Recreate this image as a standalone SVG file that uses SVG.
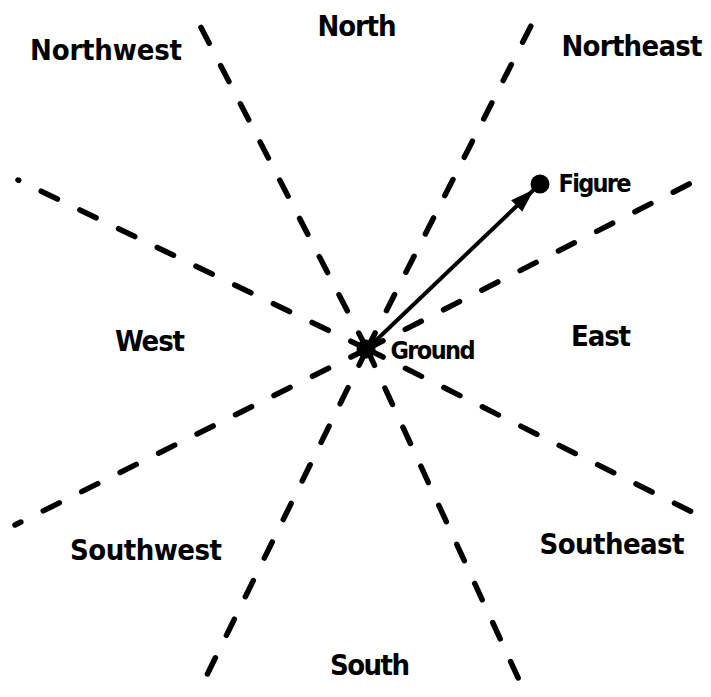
<svg xmlns="http://www.w3.org/2000/svg" width="711" height="697" viewBox="0 0 711 697">
<defs>
<style>
.ray{stroke:#000;stroke-width:5.5;stroke-dasharray:18 25;stroke-linecap:round;fill:none}
.lbl{font-family:'DejaVu Sans Condensed','DejaVu Sans',sans-serif;font-weight:bold;font-size:29px;fill:#000;text-anchor:middle;dominant-baseline:central}
.sm{font-size:25px}
</style>
<marker id="ah" markerUnits="userSpaceOnUse" markerWidth="26" markerHeight="18" refX="24" refY="8" orient="auto">
<path d="M0,0 L24,8 L0,16 Z" fill="#000"/>
</marker>
</defs>
<rect width="711" height="697" fill="#fff"/>
<g id="connectors">
<line class="ray" x1="367" y1="349" x2="193" y2="12"/>
<line class="ray" x1="367" y1="349" x2="540" y2="8"/>
<line class="ray" x1="367" y1="349" x2="18" y2="180"/>
<line class="ray" x1="367" y1="349" x2="697" y2="180"/>
<line class="ray" x1="367" y1="349" x2="15" y2="525"/>
<line class="ray" x1="367" y1="349" x2="692" y2="512"/>
<line class="ray" x1="367" y1="349" x2="203" y2="683"/>
<line class="ray" x1="367" y1="349" x2="520" y2="682"/>
<line id="arrow" x1="367" y1="349" x2="534" y2="189.5" stroke="#000" stroke-width="4" marker-end="url(#ah)"/>
</g>
<g id="ground"><circle cx="366" cy="349" r="9.5"/><text class="lbl sm" x="433" y="350" textLength="85">Ground</text></g>
<g id="figure"><circle cx="540" cy="184" r="9.5"/><text class="lbl sm" x="595" y="183" textLength="73">Figure</text></g>
<g id="north"><text class="lbl" x="357" y="26" textLength="79">North</text></g>
<g id="northwest"><text class="lbl" x="106" y="50" textLength="152">Northwest</text></g>
<g id="northeast"><text class="lbl" x="632" y="46" textLength="141">Northeast</text></g>
<g id="west"><text class="lbl" x="150" y="341" textLength="70">West</text></g>
<g id="east"><text class="lbl" x="601" y="336" textLength="60">East</text></g>
<g id="southwest"><text class="lbl" x="146" y="550" textLength="152">Southwest</text></g>
<g id="southeast"><text class="lbl" x="612" y="544" textLength="145">Southeast</text></g>
<g id="south"><text class="lbl" x="370" y="665" textLength="80">South</text></g>
</svg>
